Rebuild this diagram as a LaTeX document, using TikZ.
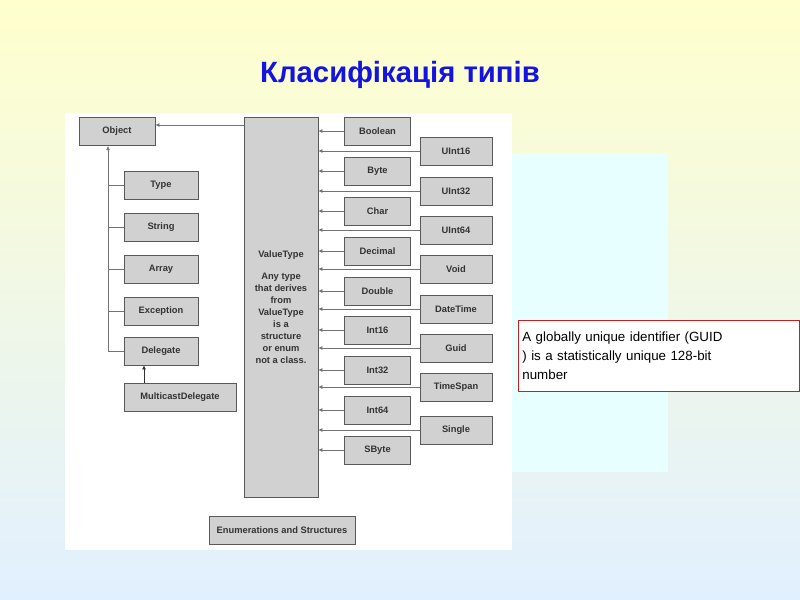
\documentclass[tikz,border=0pt]{standalone}
\usepackage{fontspec}
\setmainfont{Liberation Sans}
\usetikzlibrary{arrows.meta}
\definecolor{bgtop}{RGB}{255,255,205}
\definecolor{bgbot}{RGB}{225,240,255}
\definecolor{cyanbox}{RGB}{232,255,255}
\definecolor{titleblue}{RGB}{20,20,225}
\definecolor{notered}{RGB}{200,30,30}
\begin{document}
\begin{tikzpicture}[x=0.75pt,y=-0.75pt,
 bx/.style={draw=black!65,fill=black!18,line width=0.6pt,minimum height=21pt,inner sep=0pt,font=\fontsize{7}{7.5}\selectfont\bfseries,text=black!80},
 ar/.style={-{Latex[length=3pt,width=3pt]},draw=black!55,line width=0.5pt},
 ln/.style={draw=black!55,line width=0.5pt}]
\useasboundingbox (0,0) rectangle (800,600);
\shade[top color=bgtop,bottom color=bgbot] (0,0) rectangle (800,600);
\fill[cyanbox] (512,153) rectangle (668,472);
\fill[white] (65,113) rectangle (512,550);
\node[font=\fontsize{22}{26}\selectfont\bfseries,text=titleblue] (title) at (400,75) {Класифікація типів};
% left
\node[bx,minimum width=57pt] (obj) at (117,131.5) {Object};
\node[bx,minimum width=55.5pt] (type) at (161,185.5) {Type};
\node[bx,minimum width=55.5pt] (str) at (161,227.5) {String};
\node[bx,minimum width=55.5pt] (arr) at (161,269) {Array};
\node[bx,minimum width=55.5pt] (exc) at (161,311) {Exception};
\node[bx,minimum width=55.5pt] (del) at (161,351) {Delegate};
\node[bx,minimum width=84pt] (mcd) at (180,397) {MulticastDelegate};
\coordinate (vtop) at (108,146);
\coordinate (vbot) at (108,351);
\draw[ar] (vbot) -- (vtop);
\foreach \n in {type,str,arr,exc,del} \draw[ln] (vtop |- \n.west) -- (\n.west);
\draw[ar,draw=black!80] (mcd.north -| 144,0) -- (del.south -| 144,0);
% value type
\node[bx,minimum width=55.5pt,minimum height=285pt,font=\fontsize{7}{9}\selectfont\bfseries,align=center] (vt) at (281,307) {ValueType\\[8pt]Any type\\that derives\\from\\ValueType\\is a\\structure\\or enum\\not a class.};
\draw[ar] (vt.north west |- 0,125) -- (obj.east |- 0,125);
\node[bx,minimum width=109.5pt] (enum) at (282,530) {Enumerations and Structures};
% right boxes
\foreach \nm/\y in {Boolean/131,Byte/171,Char/211,Decimal/251,Double/291,Int16/330,Int32/370,Int64/410,SByte/450}{
 \node[bx,minimum width=49pt] (\nm) at (377.5,\y) {\nm};
 \draw[ar] (\nm.west) -- (vt.east |- \nm.west);}
\foreach \nm/\y in {UInt16/151,UInt32/191,UInt64/230,Void/269,DateTime/309,Guid/348,TimeSpan/387,Single/430}{
 \node[bx,minimum width=54pt] (\nm) at (456,\y) {\nm};
 \draw[ar] (\nm.west) -- (vt.east |- \nm.west);}
% note
\node[draw=notered,fill=white,line width=0.6pt,anchor=north west,minimum width=211pt,minimum height=53pt,text width=205pt,align=left,font=\fontsize{10}{14}\selectfont,inner sep=3pt] (note) at (518,320) {A globally unique identifier (GUID\\) is a statistically unique 128-bit\\number};
\end{tikzpicture}
\end{document}
